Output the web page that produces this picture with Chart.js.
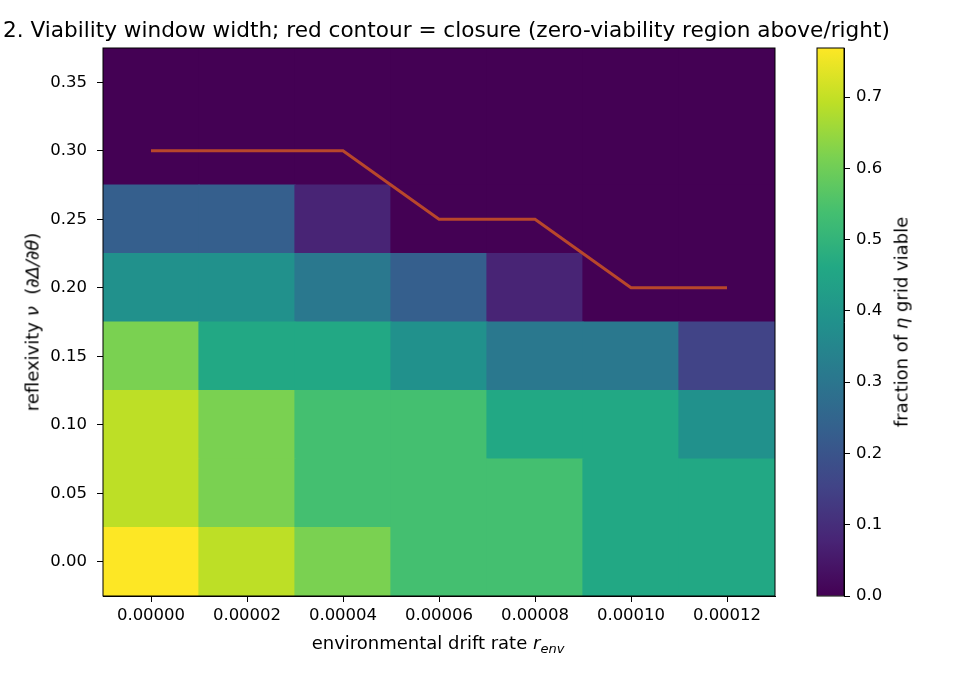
<!DOCTYPE html>
<html>
<head>
<meta charset="utf-8">
<script src="https://cdn.jsdelivr.net/npm/chart.js@4.4.1/dist/chart.umd.min.js"></script>
<style>
  html, body { margin: 0; padding: 0; background: #fff; }
  #wrap { position: relative; width: 962px; height: 676px; overflow: hidden; font-family: "DejaVu Sans", sans-serif; color: #000; }
  #main { position: absolute; left: 0; top: 0; }
  #cbar { position: absolute; left: 780px; top: 0; }
  .lbl { position: absolute; white-space: nowrap; }
  .rot { transform: translate(-50%, -50%) rotate(-90deg); }
</style>
</head>
<body>
<div id="wrap">
  <canvas id="main" width="780" height="676"></canvas>
  <canvas id="cbar" width="182" height="676"></canvas>
  <div class="lbl" style="left:3px; top:17px; font-size:21.6px; line-height:26px;">2. Viability window width; red contour = closure (zero-viability region above/right)</div>
  <div class="lbl" style="left:438px; top:644px; font-size:18px; transform:translate(-50%,-50%);">environmental drift rate <i>r</i><sub style="font-size:13px;"><i>env</i></sub></div>
  <div class="lbl rot" style="left:32px; top:322px; font-size:18px;">reflexivity <i>ν</i>&nbsp;&nbsp;(<i>∂Δ/∂θ</i>)</div>
  <div class="lbl rot" style="left:901px; top:322px; font-size:18px;">fraction of <i>η</i> grid viable</div>
</div>
<script>
// x: environmental drift rate, y: reflexivity nu
const rEnv = [0, 0.00002, 0.00004, 0.00006, 0.00008, 0.00010, 0.00012];
const nuValues = [0, 0.05, 0.10, 0.15, 0.20, 0.25, 0.30, 0.35];

// fraction of eta grid viable, one array per nu row (columns follow rEnv)
const viableNu000 = [0.769, 0.692, 0.615, 0.538, 0.538, 0.462, 0.462];
const viableNu005 = [0.692, 0.615, 0.538, 0.538, 0.538, 0.462, 0.462];
const viableNu010 = [0.692, 0.615, 0.538, 0.538, 0.462, 0.462, 0.385];
const viableNu015 = [0.615, 0.462, 0.462, 0.385, 0.308, 0.308, 0.154];
const viableNu020 = [0.385, 0.385, 0.308, 0.231, 0.077, 0, 0];
const viableNu025 = [0.231, 0.231, 0.077, 0, 0, 0, 0];
const viableNu030 = [0, 0, 0, 0, 0, 0, 0];
const viableNu035 = [0, 0, 0, 0, 0, 0, 0];

// closure contour: nu where viability hits zero, per rEnv
const contourNu = [0.30, 0.30, 0.30, 0.25, 0.25, 0.20, 0.20];

const yTicks = [0, 0.05, 0.10, 0.15, 0.20, 0.25, 0.30, 0.35];
const cbTicks = [0, 0.1, 0.2, 0.3, 0.4, 0.5, 0.6, 0.7];
const vmax = 0.769;

const rows = [viableNu000, viableNu005, viableNu010, viableNu015,
              viableNu020, viableNu025, viableNu030, viableNu035];

// viridis colormap stops
const viridisStops = ['#440154', '#482475', '#414487', '#355f8d', '#2a788e', '#21918c',
                      '#22a884', '#44bf70', '#7ad151', '#bddf26', '#fde725'];

function hexToRgb(h) {
    return [parseInt(h.slice(1, 3), 16), parseInt(h.slice(3, 5), 16), parseInt(h.slice(5, 7), 16)];
}

function viridis(t) {
    t = Math.max(0, Math.min(1, t));
    const pos = t * (viridisStops.length - 1);
    const i = Math.min(Math.floor(pos), viridisStops.length - 2);
    const f = pos - i;
    const a = hexToRgb(viridisStops[i]);
    const b = hexToRgb(viridisStops[i + 1]);
    const c = a.map((v, k) => Math.round(v + (b[k] - v) * f));
    return `rgb(${c[0]}, ${c[1]}, ${c[2]})`;
}

const FONT = { family: 'DejaVu Sans', size: 16.5 };
const halfRow = (nuValues[1] - nuValues[0]) / 2;

// box around the plot area
const framePlugin = {
    id: 'frame',
    afterDatasetsDraw(chart) {
        const a = chart.chartArea;
        const ctx = chart.ctx;
        ctx.save();
        ctx.strokeStyle = '#000';
        ctx.lineWidth = 1;
        ctx.strokeRect(a.left, a.top, a.right - a.left, a.bottom - a.top);
        ctx.restore();
    }
};

const cellSets = rows.map((vals, i) => ({
    type: 'bar',
    data: vals.map(() => [nuValues[i] - halfRow, nuValues[i] + halfRow]),
    backgroundColor: vals.map(v => viridis(v / vmax)),
    borderWidth: 0,
    inflateAmount: 0.6,
    grouped: false,
    barPercentage: 1,
    categoryPercentage: 1,
    order: 1
}));

const contourSet = {
    type: 'line',
    data: contourNu,
    borderColor: '#b8472b',
    borderWidth: 3,
    pointRadius: 0,
    tension: 0,
    fill: false,
    order: 0
};

new Chart(document.getElementById('main').getContext('2d'), {
    type: 'bar',
    data: {
        labels: rEnv.map(v => v.toFixed(5)),
        datasets: [...cellSets, contourSet]
    },
    options: {
        responsive: false,
        animation: false,
        layout: { padding: { left: 0, right: 5, top: 48, bottom: 0 } },
        plugins: { legend: { display: false }, tooltip: { enabled: false } },
        scales: {
            x: {
                type: 'category',
                offset: true,
                grid: { display: true, drawOnChartArea: false, offset: false, tickLength: 6, color: '#000', lineWidth: 1 },
                border: { display: true, color: '#000', width: 1 },
                ticks: { color: '#000', font: FONT, padding: 4, maxRotation: 0 },
                afterFit: s => { s.height = 80; }
            },
            y: {
                type: 'linear',
                min: nuValues[0] - halfRow,
                max: nuValues[nuValues.length - 1] + halfRow,
                afterBuildTicks: s => { s.ticks = yTicks.map(v => ({ value: v })); },
                grid: { display: true, drawOnChartArea: false, tickLength: 6, color: '#000', lineWidth: 1 },
                border: { display: true, color: '#000', width: 1 },
                ticks: { color: '#000', font: FONT, padding: 10, callback: v => v.toFixed(2) },
                afterFit: s => { s.width = 103; }
            }
        }
    },
    plugins: [framePlugin]
});

// colorbar
new Chart(document.getElementById('cbar').getContext('2d'), {
    type: 'bar',
    data: {
        labels: ['cb'],
        datasets: [{
            data: [[0, vmax]],
            barPercentage: 1,
            categoryPercentage: 1,
            borderWidth: 0,
            backgroundColor: function(context) {
                const chart = context.chart;
                const a = chart.chartArea;
                if (!a) return viridis(0.5);
                const g = chart.ctx.createLinearGradient(0, a.bottom, 0, a.top);
                viridisStops.forEach((c, i) => g.addColorStop(i / (viridisStops.length - 1), c));
                return g;
            }
        }]
    },
    options: {
        responsive: false,
        animation: false,
        layout: { padding: { left: 37, right: 0, top: 48, bottom: 80 } },
        plugins: { legend: { display: false }, tooltip: { enabled: false } },
        scales: {
            x: { display: false },
            y: {
                position: 'right',
                min: 0,
                max: vmax,
                afterBuildTicks: s => { s.ticks = cbTicks.map(v => ({ value: v })); },
                grid: { display: true, drawOnChartArea: false, tickLength: 6, color: '#000', lineWidth: 1 },
                border: { display: true, color: '#000', width: 1 },
                ticks: { color: '#000', font: FONT, padding: 6, callback: v => v.toFixed(1) },
                afterFit: s => { s.width = 118; }
            }
        }
    },
    plugins: [framePlugin]
});
</script>
</body>
</html>
